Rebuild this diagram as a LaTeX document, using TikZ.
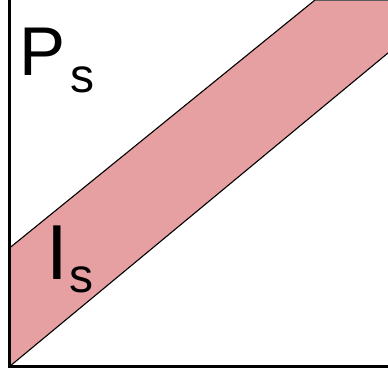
\documentclass[tikz,border=0pt]{standalone}
\usepackage{fontspec}
\setmainfont{Liberation Sans}
\usetikzlibrary{positioning}

\definecolor{bandpink}{RGB}{230,160,162}

\begin{document}
\begin{tikzpicture}[
        x=1pt, y=-1pt,
        axis/.style={line width=3pt},
        edge/.style={line width=1.1pt},
        biglabel/.style={inner sep=0pt, anchor=base west, font=\fontsize{69}{69}\selectfont},
        sublabel/.style={inner sep=0pt, anchor=base west, font=\fontsize{48}{48}\selectfont}
    ]
        \useasboundingbox (0,0) rectangle (388,376);

        % --- corner points ---
        \coordinate (origin) at (9.5,366.5);
        \coordinate (ytop) at (9.5,0);
        \coordinate (xend) at (388,366.5);

        % --- band between the two lines ---
        \coordinate (lowR) at (388,53);
        \coordinate (upL) at (9.5,248);
        \coordinate (upT) at (315,0);
        \coordinate (cornerTR) at (388,0);
        \fill[bandpink] (origin) -- (lowR) -- (cornerTR) -- (upT) -- (upL) -- cycle;
        \draw[edge] (origin) -- (lowR);
        \draw[edge] (upL) -- (upT);
        \draw[line width=1pt, black!65] (upT) -- (cornerTR);

        % --- axes ---
        \draw[axis] (ytop) -- (origin) -- (xend);

        % --- labels ---
        \node[biglabel] (P) at (19,75) {P};
        \node[sublabel] (Psub) at (70,92) {s};
        \node[biglabel, font=\fontsize{78}{78}\selectfont] (I) at (46,279) {I};
        \node[sublabel] (Isub) at (69,292) {s};
    \end{tikzpicture}
\end{document}
